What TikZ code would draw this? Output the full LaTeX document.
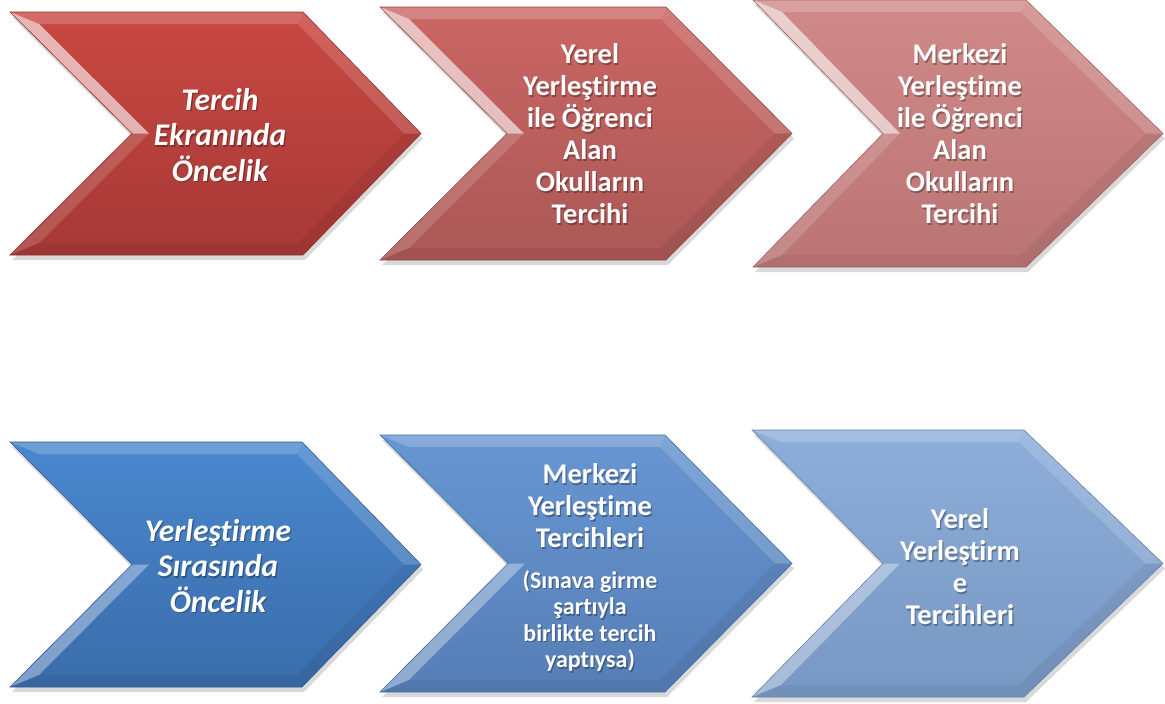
\documentclass[tikz,border=0pt]{standalone}
\usepackage{fontspec}
\setmainfont{Carlito}[Ligatures=NoCommon]

% renkler (üst / alt)
\definecolor{redAtop}{RGB}{201,72,66}   \definecolor{redAbot}{RGB}{166,57,54}
\definecolor{redBtop}{RGB}{203,102,99}  \definecolor{redBbot}{RGB}{170,88,86}
\definecolor{redCtop}{RGB}{208,138,137} \definecolor{redCbot}{RGB}{186,116,116}
\definecolor{bluAtop}{RGB}{74,136,206}  \definecolor{bluAbot}{RGB}{58,108,170}
\definecolor{bluBtop}{RGB}{104,150,210} \definecolor{bluBbot}{RGB}{86,126,182}
\definecolor{bluCtop}{RGB}{142,174,218} \definecolor{bluCbot}{RGB}{120,152,196}

% ok şekli: sol, üst, sağ, uç, alt, çentik, renk, sol-üst ve sol-alt parlaklık
\newcommand{\chevron}[9]{%
  \pgfmathsetmacro\chM{(#2+#5)/2}
  \fill[black,opacity=0.15] ({#1+2},{#2+5}) -- ({#3+2},{#2+5}) -- ({#4+2},{\chM+5}) -- ({#3+2},{#5+5}) -- ({#1+2},{#5+5}) -- ({#6+2},{\chM+5}) -- cycle;
  \shade[top color=#7top,bottom color=#7bot] (#1,#2) -- (#3,#2) -- (#4,\chM) -- (#3,#5) -- (#1,#5) -- (#6,\chM) -- cycle;
  \fill[white,opacity=#8] (#1,#2) -- ({#1+29},{#2+12}) -- ({#6+17},\chM) -- (#6,\chM) -- cycle;
  \fill[white,opacity=#9] (#6,\chM) -- ({#6+17},\chM) -- ({#1+29},{#5-12}) -- (#1,#5) -- cycle;
  \fill[white,opacity=0.2] (#1,#2) -- (#3,#2) -- ({#3-5},{#2+12}) -- ({#1+29},{#2+12}) -- cycle;
  \fill[white,opacity=0.15] (#3,#2) -- (#4,\chM) -- ({#4-17},\chM) -- ({#3-5},{#2+12}) -- cycle;
  \fill[black,opacity=0.06] (#4,\chM) -- (#3,#5) -- ({#3-5},{#5-12}) -- ({#4-17},\chM) -- cycle;
  \fill[black,opacity=0.05] (#3,#5) -- (#1,#5) -- ({#1+29},{#5-12}) -- ({#3-5},{#5-12}) -- cycle;
  \draw[#7bot!85!black,line width=0.6pt] (#1,#2) -- (#3,#2) -- (#4,\chM) -- (#3,#5) -- (#1,#5) -- (#6,\chM) -- cycle;
}

% gölgeli beyaz yazı
\newcommand{\chtext}[5]{%
  \node[chshadow,#5] (#1s) at ({#2+1.2},{#3+1.5}) {#4};
  \node[chlabel,#5] (#1) at (#2,#3) {#4};
}

\begin{document}
\begin{tikzpicture}[x=1pt,y=-1pt,
    chlabel/.style={text=white,align=center,inner sep=0pt},
    chshadow/.style={chlabel,text=black,opacity=0.3},
    bigtxt/.style={font=\fontsize{31.5}{35.5}\selectfont\bfseries\itshape},
    midtxt/.style={font=\fontsize{28.5}{32}\selectfont\bfseries},
    smalltxt/.style={font=\fontsize{24}{26.5}\selectfont\bfseries}]

    \useasboundingbox (0,0) rectangle (1165,704);

    % üst sıra (kırmızı)
    \chevron{10}{12}{303}{421}{255}{132}{redA}{0.6}{0.15}
    \chevron{380}{7}{666}{792}{260}{507}{redB}{0.6}{0.15}
    \chevron{753}{0}{1026}{1163}{267}{883}{redC}{0.6}{0.15}

    % alt sıra (mavi)
    \chevron{10}{442}{302}{421}{687}{132}{bluA}{0}{0.35}
    \chevron{380}{435}{665}{792}{692}{508}{bluB}{0}{0.35}
    \chevron{752}{430}{1024}{1163}{697}{883}{bluC}{0}{0.35}

    % yazılar
    \chtext{t1}{220}{135}{Tercih\\Ekranında\\Öncelik}{bigtxt}
    \chtext{t2}{590}{134}{Yerel\\Yerleştirme\\ile Öğrenci\\Alan\\Okulların\\Tercihi}{midtxt}
    \chtext{t3}{960}{134}{Merkezi\\Yerleştime\\ile Öğrenci\\Alan\\Okulların\\Tercihi}{midtxt}
    \chtext{t4}{218}{566}{Yerleştirme\\Sırasında\\Öncelik}{bigtxt}
    \chtext{t5}{590}{506}{Merkezi\\Yerleştime\\Tercihleri}{midtxt}
    \chtext{t5b}{590}{621}{(Sınava girme\\şartıyla\\birlikte tercih\\yaptıysa)}{smalltxt}
    \chtext{t6}{960}{567}{Yerel\\Yerleştirm\\e\\Tercihleri}{midtxt}

\end{tikzpicture}
\end{document}
